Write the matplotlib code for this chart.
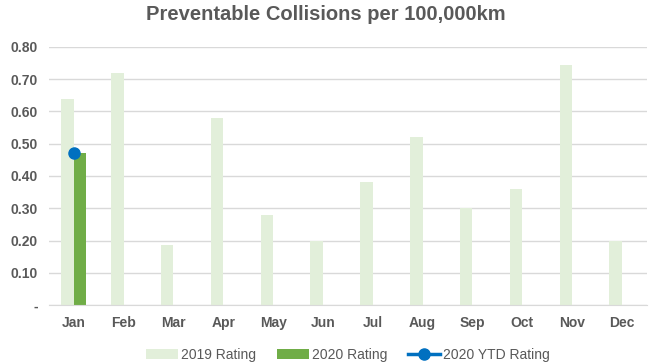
import numpy as np
import matplotlib
matplotlib.use('Agg')
import matplotlib.pyplot as plt
from matplotlib.ticker import FuncFormatter

months = ['Jan', 'Feb', 'Mar', 'Apr', 'May', 'Jun', 'Jul', 'Aug', 'Sep', 'Oct', 'Nov', 'Dec']
rating_2019 = [0.64, 0.72, 0.185, 0.58, 0.28, 0.20, 0.38, 0.52, 0.30, 0.36, 0.745, 0.20]
rating_2020 = [0.47]
ytd_2020 = [0.47]

plt.rcParams['font.family'] = ['Liberation Sans', 'DejaVu Sans']

fig = plt.figure(figsize=(6.52, 3.64), dpi=100)
ax = fig.add_axes([0.075, 0.162, 0.917, 0.709])

ind = np.arange(len(months))
width = 0.25

b19 = ax.bar(ind - width/2, rating_2019, width, color='#E2EFDA', label='2019 Rating', zorder=2)
b20 = ax.bar(ind[:len(rating_2020)] + width/2, rating_2020, width, color='#70AD47', label='2020 Rating', zorder=2)
ytd, = ax.plot(ind[:len(ytd_2020)], ytd_2020, color='#0070C0', marker='o', markersize=8, lw=2.5,
               label='2020 YTD Rating', zorder=3)

ax.set_xlim(-0.5, len(months) - 0.5)
ax.set_ylim(0, 0.8)
ax.set_yticks(np.arange(0, 0.81, 0.1))
ax.yaxis.set_major_formatter(FuncFormatter(lambda v, p: '-' if abs(v) < 1e-9 else '%.2f' % v))
ax.set_xticks(ind)
ax.set_xticklabels(months)

ax.grid(True, axis='y', color='#D9D9D9', lw=1, zorder=0)
for s in ['top', 'right', 'left']:
    ax.spines[s].set_visible(False)
ax.spines['bottom'].set_color('#D9D9D9')
ax.tick_params(length=0, colors='#595959', labelsize=10, pad=8)
for lbl in ax.get_xticklabels() + ax.get_yticklabels():
    lbl.set_fontweight('bold')

fig.suptitle('Preventable Collisions per 100,000km', x=0.5, y=0.985, fontsize=14.5,
             fontweight='bold', color='#595959')

ax.legend([b19, b20, ytd], ['2019 Rating', '2020 Rating', '2020 YTD Rating'],
          loc='lower center', bbox_to_anchor=(0.5, -0.27), ncol=3, frameon=False,
          fontsize=10, labelcolor='#595959', handlelength=2.3, handletextpad=0.2,
          columnspacing=1.5)

fig.savefig('out.png', dpi=100)
